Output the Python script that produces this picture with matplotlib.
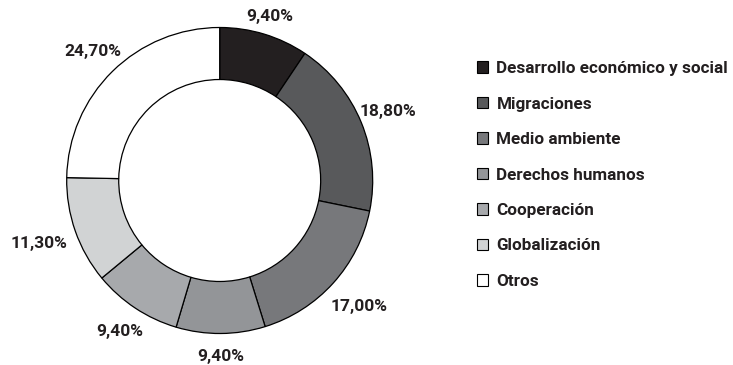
import numpy as np
import matplotlib
matplotlib.use("Agg")
import matplotlib.pyplot as plt
from matplotlib.patches import Patch

plt.rcParams['font.family'] = ['Roboto', 'DejaVu Sans']

# data
categories = ["Desarrollo económico y social", "Migraciones", "Medio ambiente",
              "Derechos humanos", "Cooperación", "Globalización", "Otros"]
shares = [9.4, 18.8, 17.0, 9.4, 9.4, 11.3, 24.7]
value_labels = ["9,40%", "18,80%", "17,00%", "9,40%", "9,40%", "11,30%", "24,70%"]

colors = ["#231f20", "#58595b", "#77787b", "#939598", "#a7a9ac", "#d1d3d4", "#ffffff"]
label_r = [1.12, 1.19, 1.23, 1.15, 1.18, 1.25, 1.18]

W, H = 733, 365
fig = plt.figure(figsize=(W / 100, H / 100), dpi=100)

# donut axes, placed in pixels
cx, cy, R = 219.7, 180.5, 153
ax = fig.add_axes([(cx - R) / W, (H - cy - R) / H, 2 * R / W, 2 * R / H])

wedges, _ = ax.pie(shares, colors=colors, startangle=90, counterclock=False,
                   radius=1, wedgeprops=dict(width=0.34, edgecolor='black', linewidth=0.9))
ax.set_xlim(-1, 1)
ax.set_ylim(-1, 1)
ax.set_aspect('equal')
ax.axis('off')

# percent labels
for w, lab, rf in zip(wedges, value_labels, label_r):
    ang = np.deg2rad((w.theta1 + w.theta2) / 2)
    ax.text(rf * np.cos(ang), rf * np.sin(ang), lab, ha='center', va='center',
            fontsize=12.5, fontweight='semibold', color='#231f20', clip_on=False)

# legend
handles = [Patch(facecolor=c, edgecolor='black', linewidth=0.8) for c in colors]
leg = fig.legend(handles, categories, loc='upper left',
                 bbox_to_anchor=(477 / W, (H - 61) / H), frameon=False,
                 borderpad=0, borderaxespad=0,
                 handlelength=0.64, handleheight=0.64, handletextpad=0.5,
                 labelspacing=1.2, prop=dict(weight='semibold', size=12.3))
for t in leg.get_texts():
    t.set_color('#231f20')

fig.savefig("out.png", dpi=100)
